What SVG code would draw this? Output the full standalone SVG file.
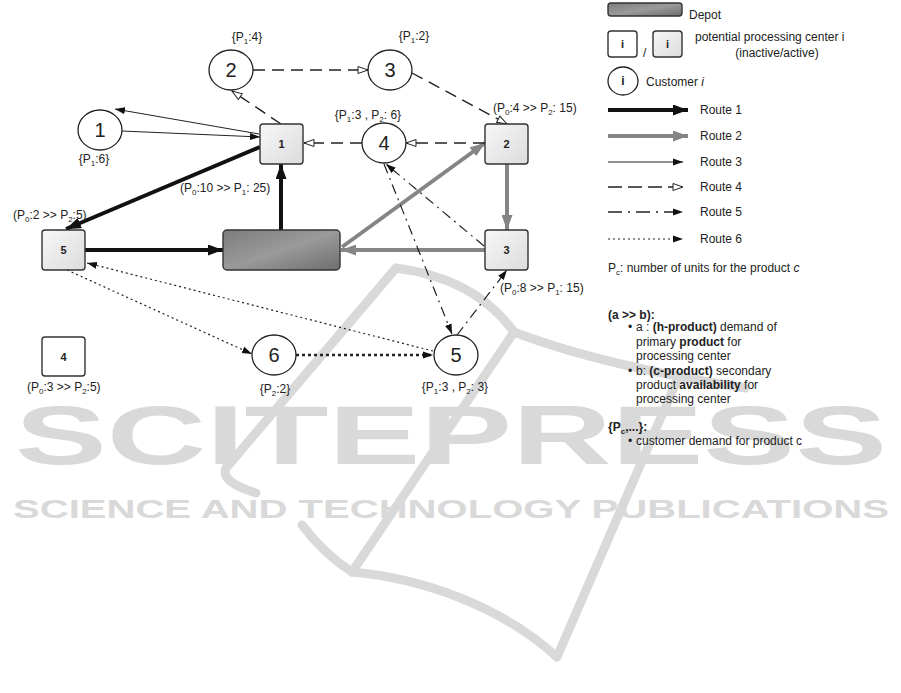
<svg xmlns="http://www.w3.org/2000/svg" width="901" height="693" viewBox="0 0 901 693">
<style>
text{font-family:"Liberation Sans",Arial,Helvetica,sans-serif;fill:#222}
.lbl{font-size:12px}
.num{font-size:20px;text-anchor:middle}
.sq{font-size:11px;font-weight:bold;text-anchor:middle}
.b{font-weight:bold}
.cust{fill:#fff;stroke:#222;stroke-width:1.3}
.pca{fill:url(#gpc);stroke:#333;stroke-width:1.4}
.pci{fill:#fff;stroke:#333;stroke-width:1.4}
.dep{fill:url(#gdep);stroke:#333;stroke-width:1.4}
.r1{stroke:#111;stroke-width:4;fill:none;marker-end:url(#m1)}
.r2{stroke:#858585;stroke-width:4;fill:none;marker-end:url(#m2)}
.r3{stroke:#222;stroke-width:1;fill:none;marker-end:url(#m3)}
.r4{stroke:#222;stroke-width:1.4;fill:none;stroke-dasharray:12 7;marker-end:url(#m4)}
.r5{stroke:#222;stroke-width:1.2;fill:none;stroke-dasharray:10 5 2 5;marker-end:url(#m3)}
.r6{stroke:#222;stroke-width:1.2;fill:none;stroke-dasharray:2 3;marker-end:url(#m3)}
.wm{fill:#d9d9d9;font-weight:bold}
.logo{stroke:#d9d9d9;stroke-width:9;fill:none;stroke-linecap:round}
</style>
<defs>
<linearGradient id="gpc" x1="0" y1="0" x2="1" y2="1"><stop offset="0" stop-color="#f7f7f7"/><stop offset="1" stop-color="#dcdcdc"/></linearGradient>
<linearGradient id="gdep" x1="0" y1="0" x2="1" y2="1"><stop offset="0" stop-color="#7c7c7c"/><stop offset="0.5" stop-color="#9a9a9a"/><stop offset="1" stop-color="#6e6e6e"/></linearGradient>
<marker id="m1" markerUnits="userSpaceOnUse" markerWidth="16" markerHeight="11" refX="15" refY="5.5" orient="auto"><path d="M0,0 L15,5.5 L0,11 z" fill="#111"/></marker>
<marker id="m2" markerUnits="userSpaceOnUse" markerWidth="16" markerHeight="11" refX="15" refY="5.5" orient="auto"><path d="M0,0 L15,5.5 L0,11 z" fill="#858585"/></marker>
<marker id="m3" markerUnits="userSpaceOnUse" markerWidth="11" markerHeight="8" refX="10" refY="4" orient="auto"><path d="M0,0.5 L10,4 L0,7.5 z" fill="#111"/></marker>
<marker id="m4" markerUnits="userSpaceOnUse" markerWidth="12" markerHeight="9" refX="11" refY="4.5" orient="auto"><path d="M1,1 L11,4.5 L1,8 z" fill="#fff" stroke="#222" stroke-width="1"/></marker>
</defs>
<rect width="901" height="693" fill="#fff"/>

<g id="watermark">
<path class="logo" d="M396,268 Q475,278 514,332"/>
<path class="logo" d="M514,332 Q600,365 745,388"/>
<path class="logo" d="M396,268 L226,468 Q220,482 256,493"/>
<path class="logo" d="M514,332 L352,572"/>
<path class="logo" d="M302,525 Q325,555 352,572"/>
<path class="logo" d="M352,572 C420,578 500,605 557,657"/>
<path class="logo" d="M678,378 L557,657"/>
<text class="wm" x="15" y="464" font-size="84" textLength="872" lengthAdjust="spacingAndGlyphs">SCITEPRESS</text>
<text class="wm" x="13" y="518" font-size="25" textLength="876" lengthAdjust="spacingAndGlyphs">SCIENCE AND TECHNOLOGY PUBLICATIONS</text>
</g>

<g id="connectors">
<path class="r1" d="M260,147 L66,229"/>
<path class="r1" d="M85,250 L223,250"/>
<path class="r1" d="M281,230 L281,164"/>
<path class="r2" d="M342,247 L485,143"/>
<path class="r2" d="M507,164 L507,230"/>
<path class="r2" d="M485,250 L341,250"/>
<path class="r3" d="M259,134 L115,109"/>
<path class="r3" d="M122,131 L260,137"/>
<path class="r4" d="M281,124 L232,91"/>
<path class="r4" d="M253,70 L368,70"/>
<path class="r4" d="M412,73 L507,124"/>
<path class="r4" d="M485,143 L406,143"/>
<path class="r4" d="M362,143 L304,143"/>
<path class="r5" d="M484,246 L386,164"/>
<path class="r5" d="M384,164 L452,334"/>
<path class="r5" d="M457,335 L507,270"/>
<path class="r6" d="M67,270 L252,354"/>
<path class="r6" d="M433,351 L87,263"/>
<path class="r6" d="M296,355 L433,355" style="stroke-width:2.5;stroke-dasharray:3 3"/>
</g>

<g id="node-depot"><rect class="dep" x="223" y="230" width="117" height="40" rx="4"/></g>

<g id="node-pc1"><rect class="pca" x="260" y="124" width="43" height="40" rx="3"/><text class="sq" x="281.5" y="148">1</text>
<text class="lbl" x="180" y="192">(P<tspan font-size="8" dy="3">0</tspan><tspan dy="-3">:10 &gt;&gt; P</tspan><tspan font-size="8" dy="3">1</tspan><tspan dy="-3">: 25)</tspan></text></g>
<g id="node-pc2"><rect class="pca" x="485" y="124" width="43" height="40" rx="3"/><text class="sq" x="506.5" y="148">2</text>
<text class="lbl" x="493" y="112">(P<tspan font-size="8" dy="3">0</tspan><tspan dy="-3">:4 &gt;&gt; P</tspan><tspan font-size="8" dy="3">2</tspan><tspan dy="-3">: 15)</tspan></text></g>
<g id="node-pc3"><rect class="pca" x="485" y="230" width="43" height="40" rx="3"/><text class="sq" x="506.5" y="254">3</text>
<text class="lbl" x="500" y="292">(P<tspan font-size="8" dy="3">0</tspan><tspan dy="-3">:8 &gt;&gt; P</tspan><tspan font-size="8" dy="3">1</tspan><tspan dy="-3">: 15)</tspan></text></g>
<g id="node-pc4"><rect class="pci" x="42" y="337" width="43" height="39" rx="3"/><text class="sq" x="63.5" y="361">4</text>
<text class="lbl" x="27" y="391">(P<tspan font-size="8" dy="3">0</tspan><tspan dy="-3">:3 &gt;&gt; P</tspan><tspan font-size="8" dy="3">2</tspan><tspan dy="-3">:5)</tspan></text></g>
<g id="node-pc5"><rect class="pca" x="42" y="230" width="43" height="40" rx="3"/><text class="sq" x="63.5" y="254">5</text>
<text class="lbl" x="13" y="219">(P<tspan font-size="8" dy="3">0</tspan><tspan dy="-3">:2 &gt;&gt; P</tspan><tspan font-size="8" dy="3">2</tspan><tspan dy="-3">:5)</tspan></text></g>

<g id="node-c1"><ellipse class="cust" cx="100" cy="130" rx="22" ry="20"/><text class="num" x="100" y="137">1</text>
<text class="lbl" x="94" y="163" text-anchor="middle">{P<tspan font-size="8" dy="3">1</tspan><tspan dy="-3">:6}</tspan></text></g>
<g id="node-c2"><ellipse class="cust" cx="231" cy="70" rx="22" ry="20"/><text class="num" x="231" y="77">2</text>
<text class="lbl" x="247" y="41" text-anchor="middle">{P<tspan font-size="8" dy="3">1</tspan><tspan dy="-3">:4}</tspan></text></g>
<g id="node-c3"><ellipse class="cust" cx="390" cy="70" rx="22" ry="20"/><text class="num" x="390" y="77">3</text>
<text class="lbl" x="414" y="40" text-anchor="middle">{P<tspan font-size="8" dy="3">1</tspan><tspan dy="-3">:2}</tspan></text></g>
<g id="node-c4"><ellipse class="cust" cx="384" cy="143" rx="22" ry="20"/><text class="num" x="384" y="150">4</text>
<text class="lbl" x="368" y="119" text-anchor="middle">{P<tspan font-size="8" dy="3">1</tspan><tspan dy="-3">:3 , P</tspan><tspan font-size="8" dy="3">2</tspan><tspan dy="-3">: 6}</tspan></text></g>
<g id="node-c5"><ellipse class="cust" cx="456" cy="355" rx="22" ry="20"/><text class="num" x="456" y="362">5</text>
<text class="lbl" x="455" y="391" text-anchor="middle">{P<tspan font-size="8" dy="3">1</tspan><tspan dy="-3">:3 , P</tspan><tspan font-size="8" dy="3">2</tspan><tspan dy="-3">: 3}</tspan></text></g>
<g id="node-c6"><ellipse class="cust" cx="274" cy="355" rx="22" ry="20"/><text class="num" x="274" y="362">6</text>
<text class="lbl" x="275" y="393" text-anchor="middle">{P<tspan font-size="8" dy="3">2</tspan><tspan dy="-3">:2}</tspan></text></g>

<g id="legend">
<rect class="dep" x="608" y="3" width="74" height="13" rx="3"/>
<text class="lbl" x="689" y="19">Depot</text>
<rect class="pci" x="608" y="31" width="29" height="26" rx="3"/><text class="sq" x="622.5" y="48">i</text>
<text class="lbl" x="643" y="57">/</text>
<rect class="pca" x="653" y="31" width="29" height="26" rx="3"/><text class="sq" x="667.5" y="48">i</text>
<text class="lbl" x="695" y="41">potential processing center i</text>
<text class="lbl" x="777" y="57" text-anchor="middle">(inactive/active)</text>
<ellipse class="cust" cx="623" cy="81" rx="15" ry="14"/><text class="sq" x="623" y="85" style="font-size:12px">i</text>
<text class="lbl" x="646" y="86">Customer <tspan font-style="italic">i</tspan></text>
<path class="r1" d="M608,110 L688,110"/><text class="lbl" x="700" y="114">Route 1</text>
<path class="r2" d="M608,136 L688,136"/><text class="lbl" x="700" y="140">Route 2</text>
<path class="r3" d="M608,162 L683,162"/><text class="lbl" x="700" y="166">Route 3</text>
<path class="r4" d="M608,187 L683,187" style="stroke-dasharray:14 6"/><text class="lbl" x="700" y="191">Route 4</text>
<path class="r5" d="M608,212 L683,212" style="stroke-width:1.6;stroke-dasharray:14 6 2 6"/><text class="lbl" x="700" y="216">Route 5</text>
<path class="r6" d="M608,239 L683,239"/><text class="lbl" x="700" y="243">Route 6</text>
<text class="lbl" x="608" y="272">P<tspan font-size="8" dy="3">c</tspan><tspan dy="-3">: number of units for the product </tspan><tspan font-style="italic">c</tspan></text>
<text class="lbl b" x="608" y="319">(a &gt;&gt; b):</text>
<text class="lbl" x="628" y="331">•</text><text class="lbl" x="636" y="331">a : <tspan class="b">(h-product)</tspan> demand of</text>
<text class="lbl" x="636" y="346">primary <tspan class="b">product</tspan> for</text>
<text class="lbl" x="636" y="360">processing center</text>
<text class="lbl" x="628" y="375">•</text><text class="lbl" x="636" y="375">b:  <tspan class="b">(c-product)</tspan> secondary</text>
<text class="lbl" x="636" y="389">product <tspan class="b">availability</tspan> for</text>
<text class="lbl" x="636" y="403">processing center</text>
<text class="lbl b" x="608" y="431">{P<tspan font-size="8" dy="3">c</tspan><tspan dy="-3">,...}:</tspan></text>
<text class="lbl" x="628" y="445">•</text><text class="lbl" x="636" y="445">customer demand for product c</text>
</g>
</svg>
